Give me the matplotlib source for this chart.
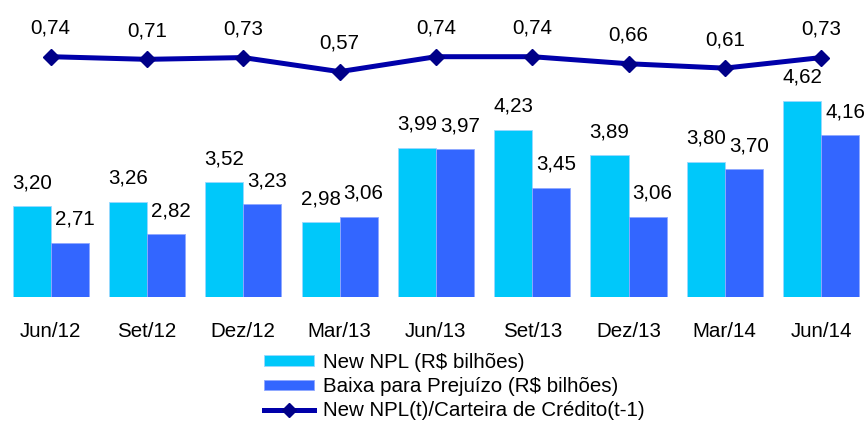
import matplotlib
matplotlib.use("Agg")
import matplotlib.pyplot as plt
from matplotlib.patches import Patch
from matplotlib.lines import Line2D
import numpy as np

plt.rcParams['font.family'] = ['Liberation Sans', 'DejaVu Sans']

categories = ["Jun/12", "Set/12", "Dez/12", "Mar/13", "Jun/13", "Set/13", "Dez/13", "Mar/14", "Jun/14"]
new_npl = [3.20, 3.26, 3.52, 2.98, 3.99, 4.23, 3.89, 3.80, 4.62]
baixa = [2.71, 2.82, 3.23, 3.06, 3.97, 3.45, 3.06, 3.70, 4.16]
ratio = [0.74, 0.71, 0.73, 0.57, 0.74, 0.74, 0.66, 0.61, 0.73]

labels = ["New NPL (R$ bilhões)", "Baixa para Prejuízo (R$ bilhões)", "New NPL(t)/Carteira de Crédito(t-1)"]

def fmt(v):
    return f"{v:.2f}".replace(".", ",")

W, H = 867, 421
fig = plt.figure(figsize=(W / 100, H / 100), dpi=100)
bottom_px = 296.7
ax = fig.add_axes([0, (H - bottom_px) / H, 1, bottom_px / H])
c_cyan = "#00C8FA"
c_blue = "#3366FF"
c_line = "#0000AA"
fs = 14.8

x = np.arange(len(categories))
bw = 0.395
ax.bar(x - bw / 2, new_npl, bw, color=c_cyan, edgecolor="#9AD8FF", linewidth=0.6)
ax.bar(x + bw / 2, baixa, bw, color=c_blue, edgecolor="#8FA8FF", linewidth=0.6)
ax.set_xlim(-50.7 / 96.3, (W - 50.7) / 96.3)
ax.set_ylim(1.98, 1.98 + bottom_px / 74.2)
for i in range(len(categories)):
    ax.annotate(fmt(new_npl[i]), (x[i] - bw / 2, new_npl[i]), xytext=(0, 10), textcoords="offset points",
                ha="center", va="bottom", fontsize=fs)
    ax.annotate(fmt(baixa[i]), (x[i] + bw / 2, baixa[i]), xytext=(3.5, 10), textcoords="offset points",
                ha="center", va="bottom", fontsize=fs)
ax.set_xticks(x)
ax.set_xticklabels(categories, fontsize=fs)
ax.tick_params(axis="x", length=0, pad=18.5)
ax.set_yticks([])
for s in ax.spines.values():
    s.set_visible(False)
ax.patch.set_alpha(0)

ax2 = ax.twinx()
ax2.set_ylim(0.74 - (bottom_px - 56.7) / 88, 0.74 + 56.7 / 88)
ax2.plot(x, ratio, color=c_line, lw=3.6, marker="D", markersize=8, markerfacecolor="#000088",
         markeredgecolor="#000088", clip_on=False)
for i in range(len(categories)):
    ax2.annotate(fmt(ratio[i]), (x[i], ratio[i]), xytext=(0, 13.5), textcoords="offset points",
                 ha="center", va="bottom", fontsize=fs)
ax2.set_yticks([])
for s in ax2.spines.values():
    s.set_visible(False)

handles = [Patch(facecolor=c_cyan, edgecolor="#9AD8FF", linewidth=0.6),
           Patch(facecolor=c_blue, edgecolor="#8FA8FF", linewidth=0.6),
           Line2D([0], [0], color=c_line, lw=3.6, marker="D", markersize=7,
                  markerfacecolor="#000088", markeredgecolor="#000088")]
fig.legend(handles, labels, loc="upper left", bbox_to_anchor=(264 / W, 1 - 353 / H),
           frameon=False, fontsize=fs, handlelength=2.45, handleheight=0.4,
           handletextpad=0.42, labelspacing=0.25, borderpad=0, borderaxespad=0)

fig.savefig("out.png", dpi=100)
